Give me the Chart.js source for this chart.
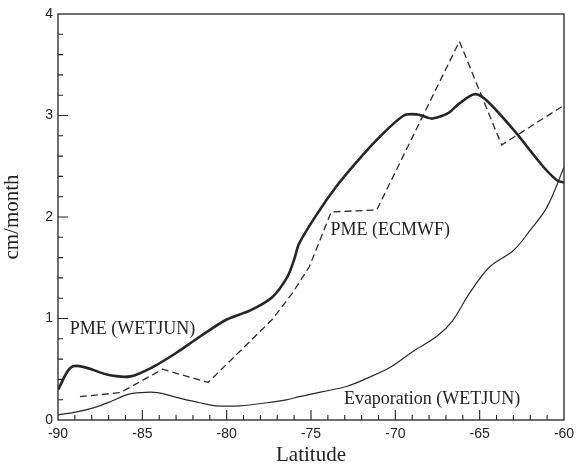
<!DOCTYPE html>
<html><head><meta charset="utf-8">
<script src="https://cdn.jsdelivr.net/npm/chart.js@4"></script>
<style>html,body{margin:0;padding:0;background:#fff}</style>
</head><body>
<canvas id="c" width="577" height="468"></canvas>
<script>
// PME (WETJUN) - thick solid
const wetjunLat = [-90, -89.1, -86.9, -85.7, -84.4, -83.0, -81.6, -80.0, -78.6, -77.3, -76.4, -76.0, -75.7, -74.6, -73.5, -72.3, -71.1, -69.5, -68.7, -68.1, -67.8, -66.9, -66.2, -65.3, -64.6, -63.0, -61.2, -60.4, -60];
const wetjunPme = [0.30, 0.53, 0.44, 0.43, 0.52, 0.66, 0.82, 0.99, 1.08, 1.21, 1.41, 1.58, 1.74, 2.04, 2.30, 2.54, 2.76, 3.00, 3.01, 2.98, 2.97, 3.02, 3.12, 3.21, 3.15, 2.86, 2.49, 2.36, 2.34];
// PME (ECMWF) - dashed
const ecmwfLat = [-88.7, -86.3, -83.8, -81.1, -77.3, -76.1, -75.1, -74.4, -73.8, -71.1, -66.2, -63.7, -60];
const ecmwfPme = [0.23, 0.27, 0.50, 0.37, 0.99, 1.25, 1.51, 1.80, 2.05, 2.07, 3.73, 2.71, 3.10];
// Evaporation (WETJUN) - thin solid
const evapLat = [-90, -88.9, -87.9, -86.9, -85.9, -85.1, -84.1, -82.9, -81.6, -80.6, -79.2, -77.6, -76.4, -75.7, -74.3, -72.9, -71.7, -70.3, -69.0, -67.5, -66.6, -65.6, -64.4, -63.0, -62.0, -61.0, -60];
const evapVal = [0.05, 0.08, 0.12, 0.18, 0.25, 0.27, 0.27, 0.22, 0.17, 0.14, 0.14, 0.17, 0.20, 0.23, 0.28, 0.33, 0.41, 0.52, 0.67, 0.83, 0.98, 1.25, 1.51, 1.67, 1.87, 2.10, 2.49];

const xTicks = [-90, -85, -80, -75, -70, -65, -60];
const yTicks = [0, 1, 2, 3, 4];
const seriesNames = ['PME (WETJUN)', 'PME (ECMWF)', 'Evaporation (WETJUN)'];

const toXY = (xs, ys) => xs.map((x, i) => ({x, y: ys[i]}));

const framePlugin = {
  id: 'frame',
  afterDraw(chart) {
    const ctx = chart.ctx, a = chart.chartArea;
    const xs = chart.scales.x, ys = chart.scales.y;
    ctx.save();
    ctx.strokeStyle = '#222';
    ctx.lineWidth = 1.3;
    ctx.strokeRect(a.left, a.top, a.right - a.left, a.bottom - a.top);
    ctx.lineWidth = 1.1;
    ctx.beginPath();
    for (let v = -89; v < -60; v++) {
      const px = xs.getPixelForValue(v);
      const len = (v % 5 === 0) ? 10 : 5;
      ctx.moveTo(px, a.bottom); ctx.lineTo(px, a.bottom - len);
    }
    for (let k = 1; k < 20; k++) {
      const v = k * 0.2;
      const py = ys.getPixelForValue(v);
      const len = (k % 5 === 0) ? 10 : 5;
      ctx.moveTo(a.left, py); ctx.lineTo(a.left + len, py);
    }
    ctx.stroke();
    // series labels
    ctx.fillStyle = '#222';
    ctx.font = '18px "Liberation Serif", serif';
    ctx.textBaseline = 'middle';
    ctx.textAlign = 'left';
    const pos = [[-89.3, 0.89], [-73.85, 1.87], [-73.05, 0.20]];
    seriesNames.forEach((t, i) => {
      ctx.fillText(t, xs.getPixelForValue(pos[i][0]), ys.getPixelForValue(pos[i][1]));
    });
    ctx.restore();
  }
};

new Chart(document.getElementById('c'), {
  type: 'line',
  data: {
    datasets: [
      {label: seriesNames[0], data: toXY(wetjunLat, wetjunPme), borderColor: '#262626', borderWidth: 2.6, pointRadius: 0, tension: 0.3, fill: false},
      {label: seriesNames[1], data: toXY(ecmwfLat, ecmwfPme), borderColor: '#2a2a2a', borderWidth: 1.3, borderDash: [7, 4], pointRadius: 0, tension: 0, fill: false},
      {label: seriesNames[2], data: toXY(evapLat, evapVal), borderColor: '#2a2a2a', borderWidth: 1.2, pointRadius: 0, tension: 0.35, fill: false}
    ]
  },
  options: {
    responsive: false,
    animation: false,
    devicePixelRatio: 1,
    layout: {padding: {left: 0, right: 13, top: 14, bottom: 0}},
    plugins: {legend: {display: false}, tooltip: {enabled: false}},
    scales: {
      x: {
        type: 'linear', min: -90, max: -60,
        afterBuildTicks: s => { s.ticks = xTicks.map(v => ({value: v})); },
        afterFit: s => { s.height = 48; s.paddingLeft = 0; s.paddingRight = 0; },
        grid: {display: false, drawTicks: false},
        border: {display: false},
        ticks: {color: '#222', padding: 6, maxRotation: 0, font: {family: '"Liberation Sans", Arial, sans-serif', size: 14}},
        title: {display: true, text: 'Latitude', color: '#222', padding: {top: 0, bottom: 0}, font: {family: '"Liberation Serif", serif', size: 21}}
      },
      y: {
        type: 'linear', min: 0, max: 4,
        afterBuildTicks: s => { s.ticks = yTicks.map(v => ({value: v})); },
        afterFit: s => { s.width = 58; s.paddingTop = 0; s.paddingBottom = 0; },
        grid: {display: false, drawTicks: false},
        border: {display: false},
        ticks: {color: '#222', padding: 5, font: {family: '"Liberation Sans", Arial, sans-serif', size: 14}},
        title: {display: true, text: 'cm/month', color: '#222', padding: {top: 0, bottom: 0}, font: {family: '"Liberation Serif", serif', size: 21}}
      }
    }
  },
  plugins: [framePlugin]
});
</script>
</body></html>
